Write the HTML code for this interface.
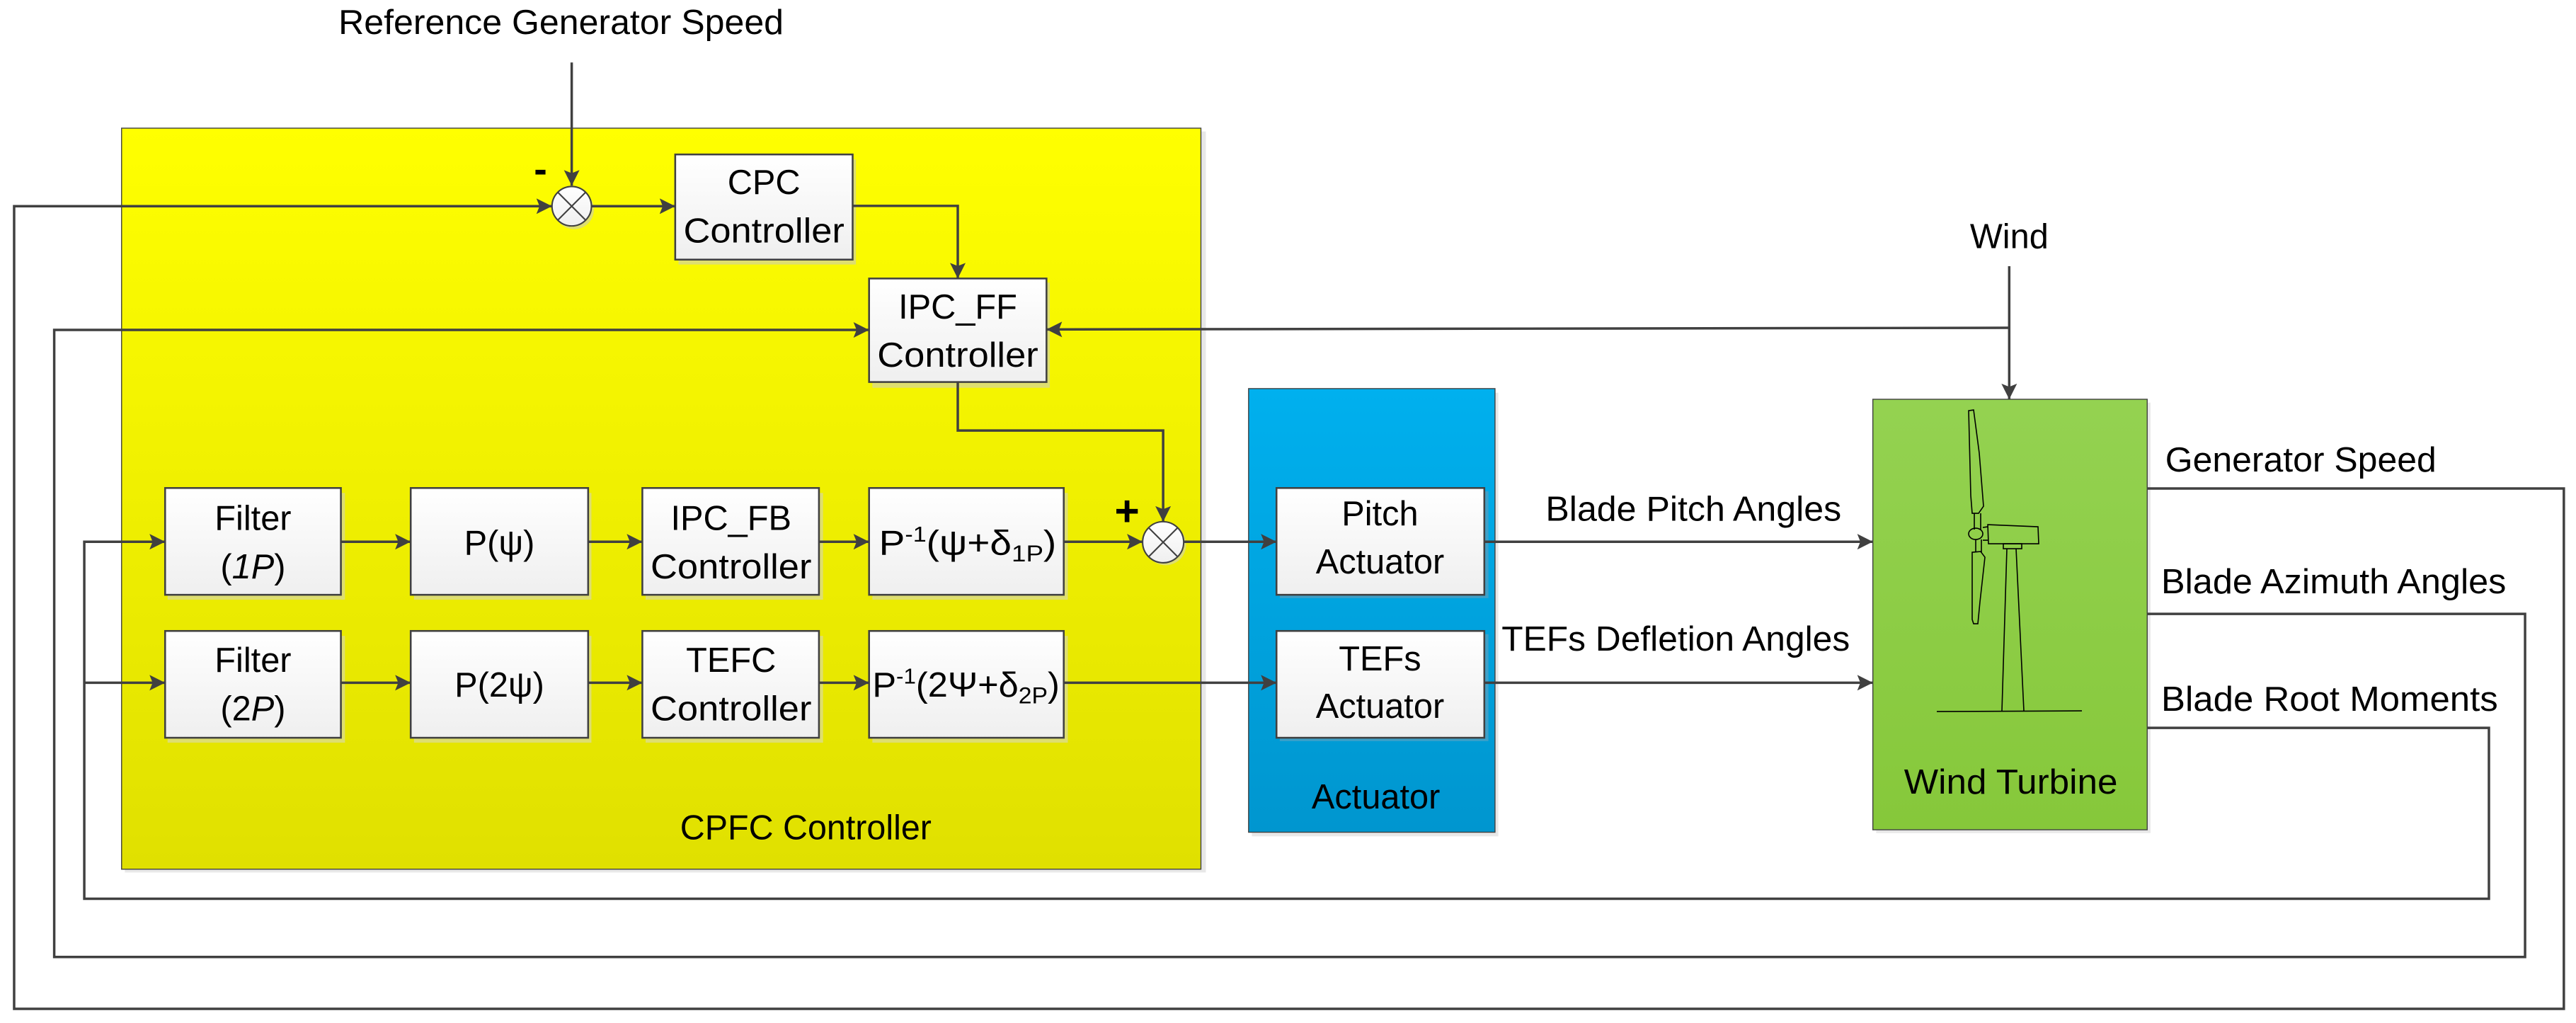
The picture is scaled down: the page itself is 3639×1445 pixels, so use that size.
<!DOCTYPE html>
<html><head><meta charset="utf-8"><style>
html,body{margin:0;padding:0;background:#fff;}
svg{display:block;}
text{font-family:"Liberation Sans",sans-serif;fill:#000;}
</style></head><body>
<svg width="3639" height="1445" viewBox="0 0 1568 622.6" preserveAspectRatio="none" xmlns="http://www.w3.org/2000/svg">
<defs>
<linearGradient id="gy" x1="0" y1="0" x2="0" y2="1"><stop offset="0" stop-color="#ffff00"/><stop offset="1" stop-color="#e0e000"/></linearGradient>
<linearGradient id="gb" x1="0" y1="0" x2="0" y2="1"><stop offset="0" stop-color="#00b0ee"/><stop offset="1" stop-color="#0096cf"/></linearGradient>
<linearGradient id="gg" x1="0" y1="0" x2="0" y2="1"><stop offset="0" stop-color="#94d251"/><stop offset="1" stop-color="#86c83a"/></linearGradient>
<linearGradient id="gw" x1="0" y1="0" x2="0" y2="1"><stop offset="0" stop-color="#ffffff"/><stop offset="1" stop-color="#efefef"/></linearGradient>
<marker id="ar" viewBox="0 0 10 10" refX="10" refY="5" markerWidth="9.5" markerHeight="9.5" markerUnits="userSpaceOnUse" orient="auto"><path d="M0,0 L10,5 L0,10 L2,5 Z" fill="#404040"/></marker>
</defs>

<rect x="76" y="80" width="658" height="451" fill="#e8e8e8"/>
<rect x="74" y="78" width="657" height="451" fill="url(#gy)" stroke="#404040" stroke-width="0.6"/>
<rect x="762" y="239" width="150" height="270" fill="#e8e8e8"/>
<rect x="760" y="236.5" width="150" height="270" fill="url(#gb)" stroke="#404040" stroke-width="0.6"/>
<rect x="1142" y="245" width="167" height="262" fill="#e8e8e8"/>
<rect x="1140" y="243" width="167" height="262" fill="url(#gg)" stroke="#404040" stroke-width="0.6"/>

<g stroke="#404040" stroke-width="1.1">
<g fill="#dede70" stroke="none">
<rect x="413" y="97" width="108" height="64"/><rect x="531" y="172" width="108" height="64"/>
<rect x="102" y="300" width="108" height="65"/><rect x="252" y="300" width="108" height="65"/><rect x="393" y="300" width="108" height="65"/><rect x="531" y="300" width="119" height="65"/>
<rect x="102" y="387" width="108" height="65"/><rect x="252" y="387" width="108" height="65"/><rect x="393" y="387" width="108" height="65"/><rect x="531" y="387" width="119" height="65"/>
</g>
<rect x="779" y="299" width="127" height="65" fill="#3fa0c8" stroke="none"/>
<rect x="779" y="386" width="127" height="65" fill="#3fa0c8" stroke="none"/>
<g fill="url(#gw)">
<rect x="411" y="94" width="108" height="64"/>
<rect x="529" y="169.5" width="108" height="63"/>
<rect x="100.5" y="297" width="107" height="65"/>
<rect x="250" y="297" width="108" height="65"/>
<rect x="391" y="297" width="107.5" height="65"/>
<rect x="529" y="297" width="118.5" height="65"/>
<rect x="100.5" y="384" width="107" height="65"/>
<rect x="250" y="384" width="108" height="65"/>
<rect x="391" y="384" width="107.5" height="65"/>
<rect x="529" y="384" width="118.5" height="65"/>
<rect x="777" y="297" width="126.5" height="65"/>
<rect x="777" y="384" width="126.5" height="65"/>
</g>
</g>

<g stroke="#404040" stroke-width="0.9">
<circle cx="349.5" cy="127.5" r="12" fill="#dede70" stroke="none"/>
<circle cx="348" cy="125.5" r="12" fill="url(#gw)"/>
<path d="M339.5,117 L356.5,134 M356.5,117 L339.5,134"/>
<circle cx="709.5" cy="331.5" r="12.5" fill="#dede70" stroke="none"/>
<circle cx="708" cy="330" r="12.5" fill="url(#gw)"/>
<path d="M699.2,321.2 L716.8,338.8 M716.8,321.2 L699.2,338.8"/>
</g>

<g fill="none" stroke="#404040" stroke-width="1.5">
<path d="M348,38 L348,113" marker-end="url(#ar)"/>
<path d="M360,125.5 L411,125.5" marker-end="url(#ar)"/>
<path d="M519,125.3 L583,125.3 L583,169.5" marker-end="url(#ar)"/>
<path d="M583,232.5 L583,262 L708,262 L708,317.5" marker-end="url(#ar)"/>
<path d="M207.5,329.7 L250,329.7" marker-end="url(#ar)"/>
<path d="M358,329.7 L391,329.7" marker-end="url(#ar)"/>
<path d="M498.5,329.7 L529,329.7" marker-end="url(#ar)"/>
<path d="M647.5,329.7 L695.5,329.7" marker-end="url(#ar)"/>
<path d="M720.5,329.7 L777,329.7" marker-end="url(#ar)"/>
<path d="M207.5,415.5 L250,415.5" marker-end="url(#ar)"/>
<path d="M358,415.5 L391,415.5" marker-end="url(#ar)"/>
<path d="M498.5,415.5 L529,415.5" marker-end="url(#ar)"/>
<path d="M647.5,415.5 L777,415.5" marker-end="url(#ar)"/>
<path d="M903.5,329.7 L1140,329.7" marker-end="url(#ar)"/>
<path d="M903.5,415.5 L1140,415.5" marker-end="url(#ar)"/>
<path d="M1223,162 L1223,243" marker-end="url(#ar)"/>
<path d="M1223,199.5 L637,200.5" marker-end="url(#ar)"/>
<path d="M1307,297.3 L1560.6,297.3 L1560.6,614 L8.6,614 L8.6,125.5 L336,125.5" marker-end="url(#ar)"/>
<path d="M1307,373.6 L1537,373.6 L1537,582.4 L33,582.4 L33,200.8 L529,200.8" marker-end="url(#ar)"/>
<path d="M1307,443 L1515,443 L1515,547 L51.3,547 L51.3,329.7 L100.5,329.7" marker-end="url(#ar)"/>
<path d="M51.3,415.5 L100.5,415.5" marker-end="url(#ar)"/>
</g>

<g transform="scale(0.43089)" fill="none" stroke="#000" stroke-width="1.6">
<path d="M2781,580 L2788,579 L2796,640 L2802,715 L2795,725 L2786,725 L2784,700 Z"/>
<path d="M2789,725 L2789,748 M2798,725 L2798,748"/>
<ellipse cx="2791" cy="754" rx="10" ry="8"/>
<path d="M2801,745 L2808,744 M2801,763 L2808,763"/>
<path d="M2808,741 L2879,744 L2880,768 L2809,768 Z"/>
<path d="M2791,762 L2791,780 M2799,762 L2799,780"/>
<path d="M2786,780 L2798,779 L2804,787 L2797,850 L2794,881 L2788,881 L2786,875 Z"/>
<rect x="2830" y="768" width="26" height="7"/>
<path d="M2835,775 L2828,1004 M2848,775 L2859,1004"/>
<path d="M2736,1005 L2941,1004"/>
</g>

<g font-size="21">
<text x="206" y="20.6" textLength="271" lengthAdjust="spacingAndGlyphs">Reference Generator Speed</text>
<text x="1223" y="151" text-anchor="middle">Wind</text>
<text x="465" y="118" text-anchor="middle">CPC</text>
<text x="465" y="147.6" text-anchor="middle" textLength="98" lengthAdjust="spacingAndGlyphs">Controller</text>
<text x="583" y="194" text-anchor="middle">IPC_FF</text>
<text x="583" y="223.3" text-anchor="middle" textLength="98" lengthAdjust="spacingAndGlyphs">Controller</text>
<text x="154" y="322.6" text-anchor="middle">Filter</text>
<text x="154" y="352" text-anchor="middle">(<tspan font-style="italic">1P</tspan>)</text>
<text x="304" y="337.6" text-anchor="middle">P(ψ)</text>
<text x="445" y="322.6" text-anchor="middle">IPC_FB</text>
<text x="445" y="352" text-anchor="middle" textLength="98" lengthAdjust="spacingAndGlyphs">Controller</text>
<text x="535" y="337.6" textLength="108" lengthAdjust="spacingAndGlyphs">P<tspan font-size="13" dy="-8">-1</tspan><tspan dy="8">(ψ+δ</tspan><tspan font-size="14" dy="4">1P</tspan><tspan dy="-4">)</tspan></text>
<text x="154" y="409" text-anchor="middle">Filter</text>
<text x="154" y="438.5" text-anchor="middle">(2<tspan font-style="italic">P</tspan>)</text>
<text x="304" y="424" text-anchor="middle">P(2ψ)</text>
<text x="445" y="409" text-anchor="middle">TEFC</text>
<text x="445" y="438.5" text-anchor="middle" textLength="98" lengthAdjust="spacingAndGlyphs">Controller</text>
<text x="531" y="424" textLength="114" lengthAdjust="spacingAndGlyphs">P<tspan font-size="13" dy="-8">-1</tspan><tspan dy="8">(2Ψ+δ</tspan><tspan font-size="14" dy="4">2P</tspan><tspan dy="-4">)</tspan></text>
<text x="840" y="319.8" text-anchor="middle">Pitch</text>
<text x="840" y="349" text-anchor="middle">Actuator</text>
<text x="840" y="408" text-anchor="middle">TEFs</text>
<text x="840" y="437" text-anchor="middle">Actuator</text>
<text x="837.5" y="492" text-anchor="middle">Actuator</text>
<text x="1224" y="483" text-anchor="middle" textLength="130" lengthAdjust="spacingAndGlyphs">Wind Turbine</text>
<text x="414" y="510.7" textLength="153" lengthAdjust="spacingAndGlyphs">CPFC Controller</text>
<text x="940.8" y="317" textLength="180" lengthAdjust="spacingAndGlyphs">Blade Pitch Angles</text>
<text x="914" y="396" textLength="212" lengthAdjust="spacingAndGlyphs">TEFs Defletion Angles</text>
<text x="1318" y="287" textLength="165" lengthAdjust="spacingAndGlyphs">Generator Speed</text>
<text x="1315.5" y="361" textLength="210" lengthAdjust="spacingAndGlyphs">Blade Azimuth Angles</text>
<text x="1315.5" y="432.6" textLength="205" lengthAdjust="spacingAndGlyphs">Blade Root Moments</text>
</g>
<text x="329" y="111" font-size="24" font-weight="bold" text-anchor="middle">-</text>
<text x="686" y="320" font-size="26" font-weight="bold" text-anchor="middle">+</text>
</svg>
</body></html>
